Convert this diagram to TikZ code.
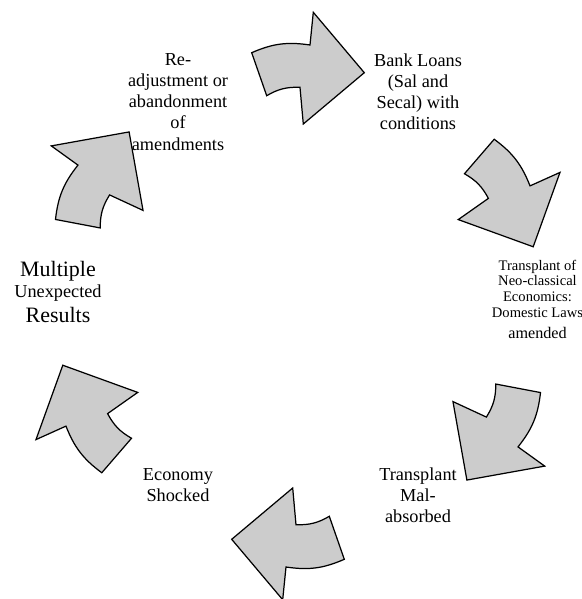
\documentclass[tikz,border=0pt]{standalone}
\usepackage{fontspec}
\setmainfont{Liberation Serif}

\tikzset{
  cyclelabel/.style={align=center,inner sep=0pt,font=\fontsize{10.4}{12}\selectfont},
  cyclearrow/.pic={
    \draw[fill=gray!40,line width=0.7pt,line join=miter]
      (-46.3,253.3) to[bend left=16] (12,261) -- (15.3,293.7) -- (66.3,233.3)
      -- (5.3,182) -- (2,218.7) to[bend right=16] (-31.3,210.3) -- cycle;
  }
}

\begin{document}
\begin{tikzpicture}[x=0.02cm,y=0.02cm]
\useasboundingbox (-298,-293) rectangle (284,306);
% six arrows going round clockwise
\pic[rotate=0] {cyclearrow};
\pic[rotate=-60] {cyclearrow};
\pic[rotate=-120] {cyclearrow};
\pic[rotate=-180] {cyclearrow};
\pic[rotate=-240] {cyclearrow};
\pic[rotate=-300] {cyclearrow};
% labels
\node[cyclelabel] (loans) at (120,214) {Bank Loans\\(Sal and\\Secal) with\\conditions};
\node[cyclelabel,font=\fontsize{8.3}{9}\selectfont] (transplant) at (239.5,7)
  {Transplant of\\Neo-classical\\Economics:\\Domestic Laws\\[2.7pt]{\fontsize{9.2}{11}\selectfont amended}};
\node[cyclelabel] (malabsorbed) at (120,-189) {Transplant\\Mal-\\absorbed};
\node[cyclelabel] (shocked) at (-120,-179) {Economy\\Shocked};
\node[cyclelabel] (results) at (-240,14)
  {{\fontsize{12.5}{14}\selectfont Multiple}\\Unexpected\\[2.2pt]{\fontsize{12.5}{14}\selectfont Results}};
\node[cyclelabel] (readjust) at (-120,204) {Re-\\adjustment or\\abandonment\\of\\amendments};
\end{tikzpicture}
\end{document}
